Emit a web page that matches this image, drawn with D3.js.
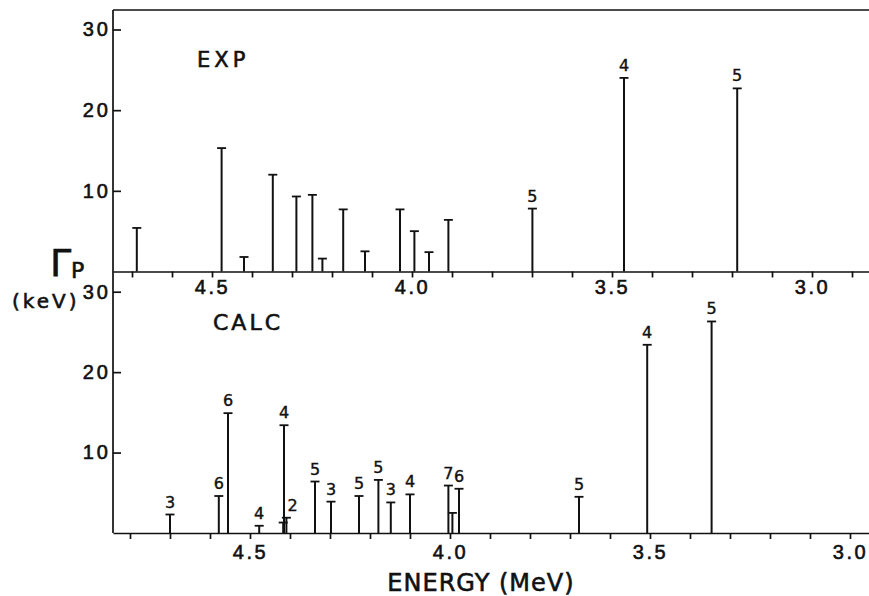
<!DOCTYPE html>
<html>
<head>
  <meta charset="utf-8">
  <script src="https://d3js.org/d3.v7.min.js"></script>
  <style>
    body { margin: 0; background: #fff; }
    svg { font-family: "DejaVu Sans", sans-serif; }
    .axis path, .axis line { stroke: #111; stroke-width: 1.7; }
    .axis text { fill: #111; stroke: #111; stroke-width: 0.6; }
    .lbl { fill: #111; stroke: #111; stroke-width: 0.6; }
  </style>
</head>
<body>
<div id="plot"></div>
<script>

// EXP panel: energy (MeV), proton width (keV), J label
var expEnergy = [4.688, 4.476, 4.42, 4.348, 4.289, 4.249, 4.224, 4.172, 4.1175, 4.03, 3.994, 3.9575, 3.909, 3.699, 3.47, 3.187];
var expWidth  = [5.4, 15.3, 1.8, 12.0, 9.3, 9.5, 1.6, 7.7, 2.5, 7.7, 5.0, 2.4, 6.4, 7.8, 24.0, 22.7];
var expLabel  = ["", "", "", "", "", "", "", "", "", "", "", "", "", "5", "4", "5"];

// CALC panel
var calcEnergy = [4.70, 4.578, 4.555, 4.477, 4.415, 4.417, 4.409, 4.3375, 4.2975, 4.2275, 4.179, 4.148, 4.10, 4.004, 3.994, 3.9775, 3.6775, 3.507, 3.346];
var calcWidth  = [2.3, 4.6, 14.9, 0.9, 13.4, 1.3, 1.9, 6.4, 3.9, 4.6, 6.6, 3.8, 4.8, 5.9, 2.5, 5.5, 4.5, 23.4, 26.3];
var calcLabel  = ["3", "6", "6", "4", "4", "", "2", "5", "3", "5", "5", "3", "4", "7", "", "6", "5", "4", "5"];

var yTicks = [10, 20, 30];
var xTickLabels = [4.5, 4.0, 3.5, 3.0];

var W = 869, H = 596;
var left = 113, right = 869;

var svg = d3.select("#plot").append("svg")
  .attr("width", W)
  .attr("height", H);

// the two panels were printed with slightly different energy offsets
var xTop = d3.scaleLinear().domain([4.7475, 2.8575]).range([left, right]);
var xBot = d3.scaleLinear().domain([4.8425, 2.9525]).range([left, right]);
var yTop = d3.scaleLinear().domain([0, 30]).range([271.5, 29.5]);
var yBot = d3.scaleLinear().domain([0, 30]).range([533, 291.7]);

function panel(x, y, minorTicks, energy, width, labels, padding) {
  var g = svg.append("g");

  var xAxis = d3.axisBottom(x)
    .tickValues(minorTicks)
    .tickSizeInner(6)
    .tickSizeOuter(0)
    .tickPadding(padding)
    .tickFormat(function(d) {
      var hit = xTickLabels.some(function(v) { return Math.abs(v - d) < 1e-6; });
      return hit ? d3.format(".1f")(d) : "";
    });

  g.append("g")
    .attr("class", "x axis")
    .attr("transform", "translate(0," + y(0) + ")")
    .call(xAxis)
    .call(function(s) {
      s.selectAll("text").style("font-size", "20px").style("letter-spacing", "2.5px");
    });

  var yAxis = d3.axisLeft(y)
    .tickValues(yTicks)
    .tickSizeInner(-8)
    .tickSizeOuter(0)
    .tickPadding(5);

  g.append("g")
    .attr("class", "y axis")
    .attr("transform", "translate(" + left + ",0)")
    .call(yAxis)
    .call(function(s) {
      s.select(".domain").remove();
      s.selectAll("text").style("font-size", "20px").style("letter-spacing", "3px")
        .attr("dx", "3px");
    });

  var rows = energy.map(function(e, i) { return {e: e, v: width[i], l: labels[i]}; });

  var bars = g.selectAll(".bar").data(rows).enter().append("g").attr("class", "bar");

  bars.append("line")
    .attr("x1", function(d) { return x(d.e); })
    .attr("x2", function(d) { return x(d.e); })
    .attr("y1", y(0))
    .attr("y2", function(d) { return y(d.v); })
    .attr("stroke", "#111")
    .attr("stroke-width", 2);

  bars.append("line")
    .attr("x1", function(d) { return x(d.e) - 4.5; })
    .attr("x2", function(d) { return x(d.e) + 4.5; })
    .attr("y1", function(d) { return y(d.v); })
    .attr("y2", function(d) { return y(d.v); })
    .attr("stroke", "#111")
    .attr("stroke-width", 1.8);

  // a label whose bar sits right against a taller one goes to the side
  function crowded(d) {
    return rows.some(function(o) {
      return o !== d && o.v > d.v && Math.abs(x(o.e) - x(d.e)) < 4;
    });
  }

  bars.filter(function(d) { return d.l; })
    .append("text")
    .attr("class", "lbl")
    .attr("x", function(d) { return crowded(d) ? x(d.e) + 1 : x(d.e); })
    .attr("y", function(d) { return y(d.v) - 7; })
    .attr("text-anchor", function(d) { return crowded(d) ? "start" : "middle"; })
    .style("font-size", "16px")
    .style("stroke-width", "0.4")
    .text(function(d) { return d.l; });
}

var topTicks = d3.range(47, 28, -1).map(function(v) { return v / 10; });
var botTicks = d3.range(48, 29, -1).map(function(v) { return v / 10; });

panel(xTop, yTop, topTicks, expEnergy, expWidth, expLabel, 2);
panel(xBot, yBot, botTicks, calcEnergy, calcWidth, calcLabel, 6);

// frame: top border and one left axis through both panels
svg.append("line")
  .attr("x1", left).attr("x2", right)
  .attr("y1", 10).attr("y2", 10)
  .attr("stroke", "#111").attr("stroke-width", 1.7);

svg.append("line")
  .attr("x1", left).attr("x2", left)
  .attr("y1", 10).attr("y2", yBot(0))
  .attr("stroke", "#111").attr("stroke-width", 1.7);

// panel names
svg.append("text")
  .attr("class", "lbl")
  .attr("x", 197).attr("y", 67)
  .style("font-size", "21px").style("letter-spacing", "4px")
  .text("EXP");

svg.append("text")
  .attr("class", "lbl")
  .attr("x", 213).attr("y", 330)
  .style("font-size", "22px").style("letter-spacing", "3px")
  .text("CALC");

// y label
var yl = svg.append("text").attr("class", "lbl");
yl.append("tspan")
  .attr("x", 50).attr("y", 276)
  .style("font-size", "38px")
  .text("Γ");
yl.append("tspan")
  .attr("x", 71).attr("y", 278)
  .style("font-size", "22px")
  .text("P");

svg.append("text")
  .attr("class", "lbl")
  .attr("x", 12).attr("y", 308)
  .style("font-size", "20px").style("letter-spacing", "3px")
  .text("(keV)");

// x label
svg.append("text")
  .attr("class", "lbl")
  .attr("x", 481).attr("y", 591)
  .attr("text-anchor", "middle")
  .style("font-size", "24px").style("letter-spacing", "1px")
  .text("ENERGY (MeV)");

</script>
</body>
</html>
